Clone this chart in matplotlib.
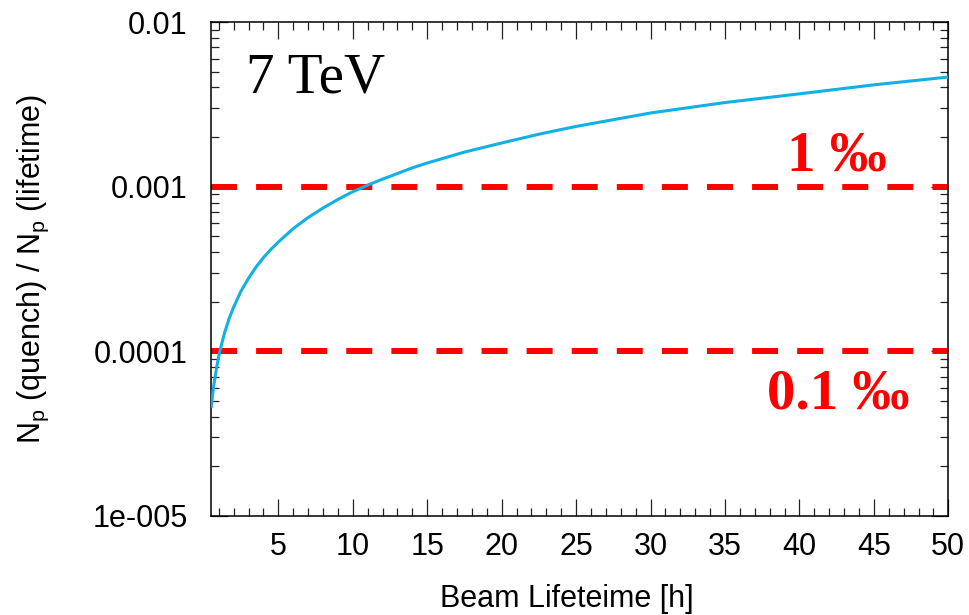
import numpy as np
import matplotlib
matplotlib.use("Agg")
import matplotlib.pyplot as plt
from matplotlib.ticker import FixedLocator, NullFormatter

# curve
lifetime_h = [0.5, 0.6, 0.7, 0.8, 0.9, 1.0, 1.2, 1.4, 1.7, 2.0, 2.5, 3.0, 3.5, 4.0,
              4.5, 5, 6, 7, 8, 9, 10, 11, 12, 13, 14, 15, 17.5, 20, 22.5, 25,
              30, 35, 40, 45, 50]
quench_ratio = [4.63e-5, 5.55e-5, 6.5e-5, 7.4e-5, 8.35e-5, 9.3e-5, 1.11e-4, 1.3e-4,
                1.58e-4, 1.85e-4, 2.32e-4, 2.77e-4, 3.24e-4, 3.7e-4, 4.15e-4, 4.6e-4,
                5.55e-4, 6.48e-4, 7.4e-4, 8.35e-4, 9.3e-4, 1.02e-3, 1.11e-3, 1.2e-3,
                1.3e-3, 1.39e-3, 1.62e-3, 1.84e-3, 2.08e-3, 2.32e-3, 2.8e-3, 3.24e-3,
                3.66e-3, 4.15e-3, 4.63e-3]

limit_values = [1e-3, 1e-4]
limit_labels = ["1 \u2030", "0.1 \u2030"]

x_ticks = [5, 10, 15, 20, 25, 30, 35, 40, 45, 50]
y_ticks = [1e-5, 1e-4, 1e-3, 1e-2]
y_tick_labels = ["1e-005", "0.0001", "0.001", "0.01"]

plt.rcParams['font.family'] = ['Liberation Sans', 'DejaVu Sans']

fig = plt.figure(figsize=(9.7, 6.15), dpi=100)
ax = fig.add_axes([211.3 / 970, 1 - 515.7 / 615, (948.3 - 211.3) / 970, (515.7 - 22) / 615])

ax.plot(lifetime_h, quench_ratio, color='#12b0e6', lw=2.2, zorder=3)
for v in limit_values:
    ax.axhline(v, color='#ff0000', lw=4.3, linestyle=(0, (4.35, 3.2)), zorder=2)

ax.set_yscale('log')
ax.set_xlim(0.5, 50)
ax.set_ylim(1e-5, 1e-2)

ax.xaxis.set_major_locator(FixedLocator(x_ticks))
ax.xaxis.set_minor_locator(FixedLocator(np.arange(1, 50, 1)))
ax.set_xticklabels([str(t) for t in x_ticks])
ax.yaxis.set_major_locator(FixedLocator(y_ticks))
ax.set_yticklabels(y_tick_labels)
minor_y = [m * 10.0 ** e for e in range(-5, -2) for m in range(2, 10)]
ax.yaxis.set_minor_locator(FixedLocator(minor_y))
ax.yaxis.set_minor_formatter(NullFormatter())

ax.tick_params(which='both', direction='in', top=True, right=True, width=0.9, color='#222222')
ax.tick_params(which='major', length=12, labelsize=22)
ax.tick_params(which='minor', length=6)
ax.tick_params(axis='x', which='major', pad=12)
ax.tick_params(axis='y', which='major', pad=17)
for s in ax.spines.values():
    s.set_linewidth(1.1)

fig.text(567 / 970, 8 / 615, "Beam Lifeteime [h]", ha='center', va='baseline', fontsize=22)
fig.text(33 / 970, 1 - 269 / 615,
         r"N$_\mathregular{p}$ (quench) / N$_\mathregular{p}$ (lifetime)",
         rotation=90, ha='center', va='center', fontsize=22)

ax.text(0.047, 0.858, "7 TeV", transform=ax.transAxes, family=['Liberation Serif', 'DejaVu Serif'],
        fontsize=41, ha='left', va='baseline')
ax.text(0.781, 0.700, limit_labels[0], transform=ax.transAxes, color='#ff0000', fontweight='bold',
        family=['Liberation Serif', 'DejaVu Serif'], fontsize=41, ha='left', va='baseline')
ax.text(0.754, 0.218, limit_labels[1], transform=ax.transAxes, color='#ff0000', fontweight='bold',
        family=['Liberation Serif', 'DejaVu Serif'], fontsize=41, ha='left', va='baseline')

fig.savefig("out.png", dpi=100)
